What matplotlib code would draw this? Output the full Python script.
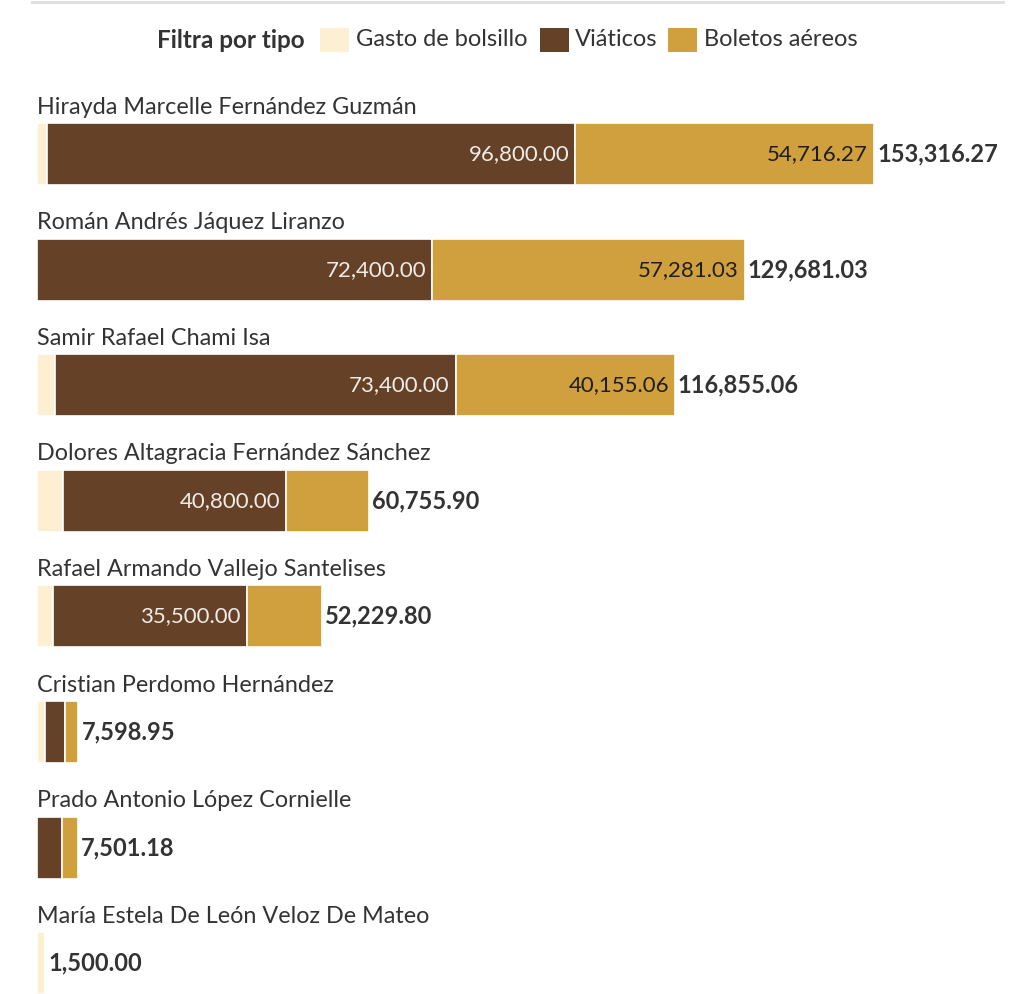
import matplotlib
matplotlib.use("Agg")
import matplotlib.pyplot as plt
from matplotlib.patches import Rectangle

plt.rcParams['font.family'] = ['Lato', 'DejaVu Sans']

# data
names = ['Hirayda Marcelle Fernández Guzmán', 'Román Andrés Jáquez Liranzo',
         'Samir Rafael Chami Isa', 'Dolores Altagracia Fernández Sánchez',
         'Rafael Armando Vallejo Santelises', 'Cristian Perdomo Hernández',
         'Prado Antonio López Cornielle', 'María Estela De León Veloz De Mateo']
gasto = [1800.00, 0, 3300.00, 4800.00, 2900.00, 1500.00, 0, 1500.00]
viaticos = [96800.00, 72400.00, 73400.00, 40800.00, 35500.00, 3600.00, 4600.00, 0]
boletos = [54716.27, 57281.03, 40155.06, 15155.90, 13829.80, 2498.95, 2901.18, 0]
series_names = ['Gasto de bolsillo', 'Viáticos', 'Boletos aéreos']
colors = ['#FDF0D2', '#654128', '#CFA03D']
label_colors = ['#333333', '#F2ECE6', '#1E1E1E']

W, H = 1024, 994
fig = plt.figure(figsize=(W / 100, H / 100), dpi=100)
ax = fig.add_axes([0, 0, 1, 1])

# pixel mapping: value 0 at x=37, max total at x=874
totals = [g + v + b for g, v, b in zip(gasto, viaticos, boletos)]
scale = (874 - 37) / max(totals)
ax.set_xlim(-37 / scale, (W - 37) / scale)
row0, step = 154, 115.6
ax.set_ylim((H - row0) / step, -row0 / step)
ax.axis('off')

bar_h = 62 / step
px = 1 / scale  # one pixel in data units

for i, name in enumerate(names):
    left = 0
    for k, vals in enumerate([gasto, viaticos, boletos]):
        v = vals[i]
        if v <= 0:
            continue
        ax.barh(i, v, left=left, height=bar_h, color=colors[k],
                edgecolor='white', linewidth=1.2)
        if v > 20000:
            ax.text(left + v - 6 * px, i, f'{v:,.2f}', ha='right', va='center',
                    fontsize=16, color=label_colors[k])
        left += v
    ax.text(left + 3 * px, i, f'{totals[i]:,.2f}', ha='left', va='center',
            fontsize=17, fontweight='bold', color='#333333')
    ax.text(0, i - 47 / step, name, ha='left', va='center',
            fontsize=16.8, color='#333333')

# top rule
fig.add_artist(plt.Line2D([32 / W, 1003 / W], [1 - 2 / H, 1 - 2 / H],
                          color='#DDDDDD', linewidth=2))

# legend row
ly = 1 - 40 / H
fig.text(157 / W, ly, 'Filtra por tipo', ha='left', va='center',
         fontsize=17.5, fontweight='bold', color='#333333')
patch_x = [320, 540, 668]
text_x = [356, 575, 704]
for k in range(3):
    fig.add_artist(Rectangle((patch_x[k] / W, 1 - 52 / H), 29 / W, 24 / H,
                             facecolor=colors[k], edgecolor='none',
                             transform=fig.transFigure))
    fig.text(text_x[k] / W, ly, series_names[k], ha='left', va='center',
             fontsize=17, color='#333333')

fig.savefig('out.png', dpi=100, facecolor='white')
